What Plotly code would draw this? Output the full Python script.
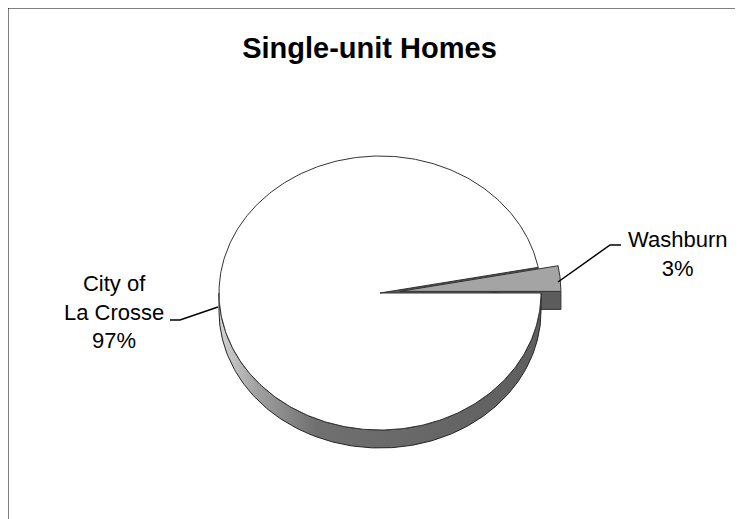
import numpy as np
import plotly.graph_objects as go

# data
labels = ["City of<br>La Crosse", "Washburn"]
values = [97, 3]
title = "Single-unit Homes"

# 3-D pie geometry in page pixels (the axes map 1:1 onto the page,
# the browser's default 8px body margin is absorbed by the axis ranges)
W, H = 743, 519
M = 8
cx, cy = 380, 293
rx, ry = 161, 137
depth = 18
explode = 20

shares = np.array(values, dtype=float) / sum(values)
span_w = shares[1] * 2 * np.pi       # Washburn runs from 0 to span_w
mid_w = span_w / 2
off_x = explode * np.cos(mid_w)
off_y = -explode * np.sin(mid_w) * ry / rx


def arc(t0, t1, n=200, dx=0.0, dy=0.0):
    t = np.linspace(t0, t1, n)
    return cx + dx + rx * np.cos(t), cy + dy - ry * np.sin(t)


def poly(x, y, fill, line="#333333", width=1, **kw):
    return go.Scatter(x=list(x), y=list(y), mode="lines", fill="toself",
                      fillcolor=fill, line=dict(color=line, width=width),
                      hoverinfo="skip", showlegend=False, **kw)


fig = go.Figure()

# Washburn cut face at angle 0 (dark), mostly hidden by the big slice
ax, ay = cx + off_x, cy + off_y
ex, ey = ax + rx, ay
fig.add_trace(poly([ax, ex, ex, ax, ax], [ay, ey, ey + depth, ay + depth, ay], "#5c5c5c"))

# cut face of the big slice, seen inside the gap
px, py = cx + rx * np.cos(span_w), cy - ry * np.sin(span_w)
fig.add_trace(poly([cx, px, px, cx, cx], [cy, py, py + depth, cy + depth, cy], "#5c5c5c"))

# rim of the big slice (front half)
tx, ty = arc(np.pi, 2 * np.pi)
bx, by = arc(2 * np.pi, np.pi)
fig.add_trace(poly(np.r_[tx, bx, tx[:1]], np.r_[ty, by + depth, ty[:1]], "#777777", line="#222222",
                   fillgradient=dict(type="horizontal", start=cx - rx, stop=cx + rx,
                                     colorscale=[[0, "#d4d4d4"], [0.12, "#a0a0a0"],
                                                 [0.3, "#707070"], [1, "#5e5e5e"]])))

# top face of the big slice
fx, fy = arc(span_w, 2 * np.pi, n=400)
fig.add_trace(poly(np.r_[cx, fx, cx], np.r_[cy, fy, cy], "#ffffff"))

# top face of Washburn (exploded)
wx, wy = arc(0, span_w, n=40, dx=off_x, dy=off_y)
fig.add_trace(poly(np.r_[ax, wx, ax], np.r_[ay, wy, ay], "#a4a4a4"))

pcts = [f"{round(s * 100)}%" for s in shares]
fnt = dict(family="Liberation Sans, Arial, sans-serif", size=22, color="#000000")
fig.add_annotation(x=114, y=312, text=f"{labels[0]}<br>{pcts[0]}", showarrow=False, font=fnt)
fig.add_annotation(x=677, y=254, text=f"{labels[1]}<br>{pcts[1]}", showarrow=False, font=fnt)

# leader lines and chart border
fig.add_shape(type="path", path="M 170 320 L 180 320 L 218 307", line=dict(color="#000000", width=1.5))
fig.add_shape(type="path", path="M 558 282 L 610 245 L 621 245", line=dict(color="#000000", width=1.5))
fig.add_shape(type="rect", x0=8, y0=8, x1=W + 30, y1=H + 30, line=dict(color="#000000", width=1))

fig.update_layout(
    width=W, height=H,
    margin=dict(l=0, r=0, t=0, b=0),
    paper_bgcolor="#ffffff", plot_bgcolor="#ffffff",
    title=dict(text=f"<b>{title}</b>", x=(369.5 - M) / W, xanchor="center",
               y=1 - (48 - M) / H, yanchor="middle",
               font=dict(family="Liberation Sans, Arial, sans-serif", size=29, color="#000000")),
    xaxis=dict(range=[M, W + M], visible=False, fixedrange=True),
    yaxis=dict(range=[H + M, M], visible=False, fixedrange=True),
)

fig.write_html("out.html")
